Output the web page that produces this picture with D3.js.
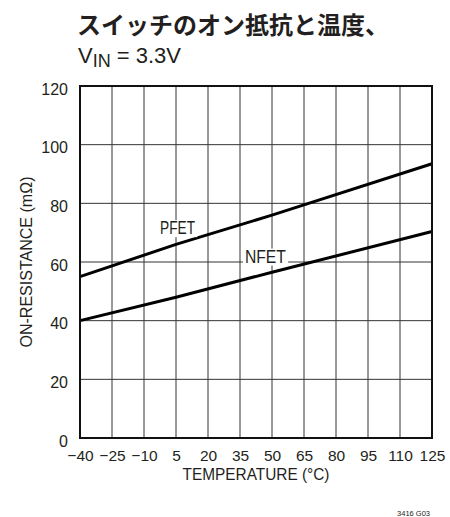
<!DOCTYPE html>
<html>
<head>
<meta charset="utf-8">
<script src="https://cdn.jsdelivr.net/npm/d3@7"></script>
<style>
  body { margin: 0; background: #fff; }
  svg { display: block; }
</style>
</head>
<body>
<svg id="chart" width="450" height="517"></svg>
<script>
// On-resistance of the switch versus temperature, VIN = 3.3V
const temperatures = [-40, 5, 50, 125];          // °C
const pfetResistance = [55, 66, 76, 93.5];       // mΩ
const nfetResistance = [40, 48, 56.5, 70.4];     // mΩ
const xTickValues = [-40, -25, -10, 5, 20, 35, 50, 65, 80, 95, 110, 125];
const yTickValues = [0, 20, 40, 60, 80, 100, 120];

const svg = d3.select("#chart");
const margin = { top: 86, right: 18, bottom: 79, left: 80 };
const width = 450 - margin.left - margin.right;
const height = 517 - margin.top - margin.bottom;
const sans = "'Liberation Sans', Arial, sans-serif";
const ink = "#231f20";

const x = d3.scaleLinear().domain([-40, 125]).range([0, width]);
const y = d3.scaleLinear().domain([0, 120]).range([height, 0]);

// Title block
svg.append("text")
  .attr("x", 77).attr("y", 34)
  .attr("font-family", "'Noto Sans CJK JP', sans-serif")
  .attr("font-weight", "bold")
  .attr("font-size", 24)
  .attr("fill", ink)
  .text("スイッチのオン抵抗と温度、");

const sub = svg.append("text")
  .attr("x", 78).attr("y", 62.5)
  .attr("font-family", sans)
  .attr("font-size", 22)
  .attr("fill", ink);
sub.append("tspan").text("V");
sub.append("tspan").attr("font-size", 18).attr("dy", 4).text("IN");
sub.append("tspan").attr("dy", -4).text(" = 3.3V");

const g = svg.append("g").attr("transform", `translate(${margin.left},${margin.top})`);

// Grid lines
g.append("g")
  .selectAll("line")
  .data(xTickValues.slice(1, -1))
  .join("line")
  .attr("x1", d => x(d)).attr("x2", d => x(d))
  .attr("y1", 0).attr("y2", height)
  .attr("stroke", "#333").attr("stroke-width", 1);

g.append("g")
  .selectAll("line")
  .data(yTickValues.slice(1, -1))
  .join("line")
  .attr("x1", 0).attr("x2", width)
  .attr("y1", d => y(d)).attr("y2", d => y(d))
  .attr("stroke", "#333").attr("stroke-width", 1);

// Axes (labels only, frame drawn separately)
const xAxis = g.append("g")
  .attr("transform", `translate(0,${height})`)
  .call(d3.axisBottom(x).tickValues(xTickValues).tickSize(0).tickPadding(12)
    .tickFormat(d => d < 0 ? "\u2212" + Math.abs(d) : String(d)));
xAxis.select(".domain").remove();
xAxis.selectAll("text")
  .attr("font-family", sans).attr("font-size", 15.5).attr("fill", ink);

const yAxis = g.append("g")
  .call(d3.axisLeft(y).tickValues(yTickValues).tickSize(0).tickPadding(12));
yAxis.select(".domain").remove();
yAxis.selectAll("text")
  .attr("font-family", sans).attr("font-size", 16).attr("fill", ink)
  .attr("dy", "0.5em");

// Data lines
const line = d3.line().x(d => x(d[0])).y(d => y(d[1]));
const series = [
  { name: "PFET", values: temperatures.map((t, i) => [t, pfetResistance[i]]), labelAt: [-2.5, 69.5], span: 35 },
  { name: "NFET", values: temperatures.map((t, i) => [t, nfetResistance[i]]), labelAt: [37.3, 59.8], span: 41 }
];

g.append("g")
  .selectAll("path")
  .data(series)
  .join("path")
  .attr("d", d => line(d.values))
  .attr("fill", "none")
  .attr("stroke", "#000")
  .attr("stroke-width", 3);

// Series labels with white backing
series.forEach(s => {
  const lbl = g.append("g");
  const t = lbl.append("text")
    .attr("x", x(s.labelAt[0])).attr("y", y(s.labelAt[1]))
    .attr("font-family", sans).attr("font-size", 17.5).attr("fill", ink)
    .attr("textLength", s.span).attr("lengthAdjust", "spacingAndGlyphs")
    .text(s.name);
  const bb = t.node().getBBox();
  lbl.insert("rect", "text")
    .attr("x", bb.x - 2).attr("y", bb.y + 2)
    .attr("width", bb.width + 4).attr("height", bb.height - 3)
    .attr("fill", "#fff");
});

// Plot frame
g.append("rect")
  .attr("x", 0).attr("y", 0).attr("width", width).attr("height", height)
  .attr("fill", "none").attr("stroke", "#111").attr("stroke-width", 2);

// Axis titles
g.append("text")
  .attr("x", width / 2).attr("y", height + 41.5)
  .attr("text-anchor", "middle")
  .attr("font-family", sans).attr("font-size", 16.5).attr("fill", ink)
  .attr("textLength", 147).attr("lengthAdjust", "spacingAndGlyphs")
  .text("TEMPERATURE (°C)");

g.append("text")
  .attr("transform", `translate(${32 - margin.left},${height / 2}) rotate(-90)`)
  .attr("text-anchor", "middle")
  .attr("font-family", sans).attr("font-size", 17).attr("fill", ink)
  .attr("textLength", 171).attr("lengthAdjust", "spacingAndGlyphs")
  .text("ON-RESISTANCE (mΩ)");

// Figure code
svg.append("text")
  .attr("x", 430).attr("y", 516)
  .attr("text-anchor", "end")
  .attr("font-family", sans).attr("font-size", 7.5).attr("fill", ink)
  .text("3416 G03");
</script>
</body>
</html>
